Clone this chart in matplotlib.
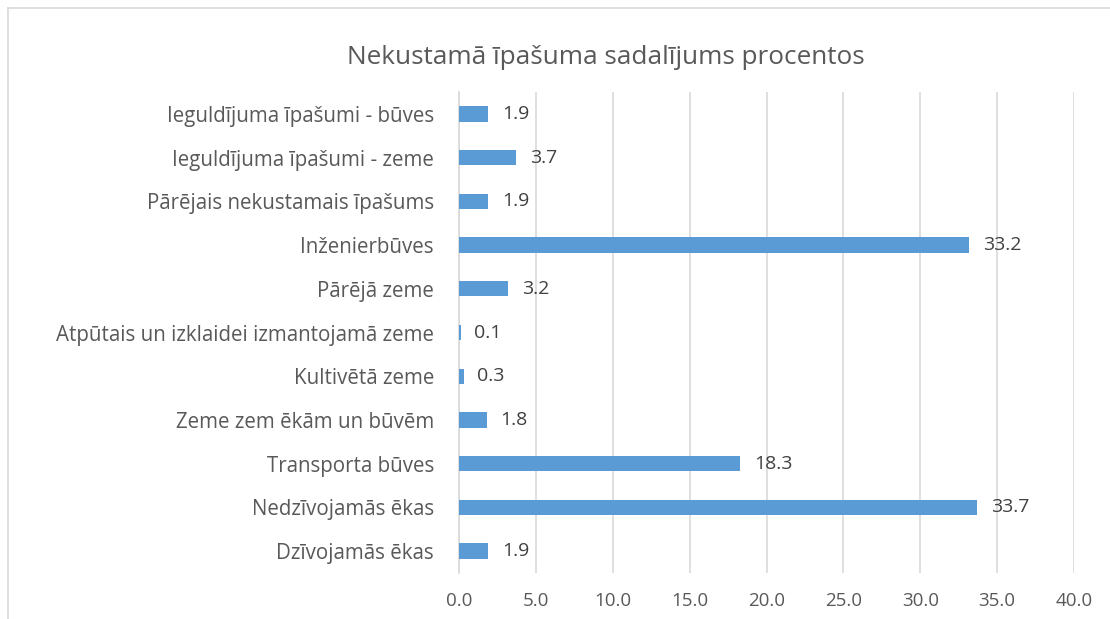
import matplotlib
matplotlib.use("Agg")
import matplotlib.pyplot as plt
from matplotlib.lines import Line2D

categories = [
    "Dzīvojamās ēkas",
    "Nedzīvojamās ēkas",
    "Transporta būves",
    "Zeme zem ēkām un būvēm",
    "Kultivētā zeme",
    "Atpūtais un izklaidei izmantojamā zeme",
    "Pārējā zeme",
    "Inženierbūves",
    "Pārējais nekustamais īpašums",
    "Ieguldījuma īpašumi - zeme",
    "Ieguldījuma īpašumi - būves",
]
values = [1.9, 33.7, 18.3, 1.8, 0.3, 0.1, 3.2, 33.2, 1.9, 3.7, 1.9]
xticks = [0, 5, 10, 15, 20, 25, 30, 35, 40]
title = "Nekustamā īpašuma sadalījums procentos"

plt.rcParams['font.family'] = ['Open Sans', 'DejaVu Sans']
txt = '#595959'
grid = '#d9d9d9'

fig = plt.figure(figsize=(11.1, 6.19), dpi=100)
fig.patch.set_facecolor('white')
# chart border (top and left visible)
fig.add_artist(Line2D([8/1110, 8/1110], [0, 1 - 8/619], color='#d9d9d9', lw=1.2, transform=fig.transFigure))
fig.add_artist(Line2D([8/1110, 1], [1 - 8/619, 1 - 8/619], color='#d9d9d9', lw=1.2, transform=fig.transFigure))

ax = fig.add_axes([459/1110, 1 - 573/619, (1074 - 459)/1110, (573 - 92)/619])
y = list(range(len(categories)))
ax.barh(y, values, height=0.35, color='#5b9bd5', zorder=3)
for yi, v in zip(y, values):
    ax.text(v + 0.9, yi, f"{v:.1f}", va='center', ha='left', fontsize=14, color='#404040')

ax.set_xlim(0, 40)
ax.set_ylim(-0.5, len(categories) - 0.5)
ax.set_xticks(xticks)
ax.set_xticklabels([f"{t:.1f}" for t in xticks], fontsize=13.5, color=txt)
ax.set_yticks(y)
ax.set_yticklabels(categories, fontsize=14.8, color=txt)
ax.tick_params(axis='both', length=0)
ax.tick_params(axis='y', pad=18)
ax.tick_params(axis='x', pad=14)
ax.xaxis.grid(True, color=grid, lw=1.2, zorder=0)
for s in ['top', 'right', 'bottom']:
    ax.spines[s].set_visible(False)
ax.spines['left'].set_color(grid)
ax.spines['left'].set_linewidth(1.2)

fig.text(606/1110, 1 - 58/619, title, ha='center', va='center', fontsize=18.8, color=txt)

fig.savefig('out.png', dpi=100, facecolor='white')
